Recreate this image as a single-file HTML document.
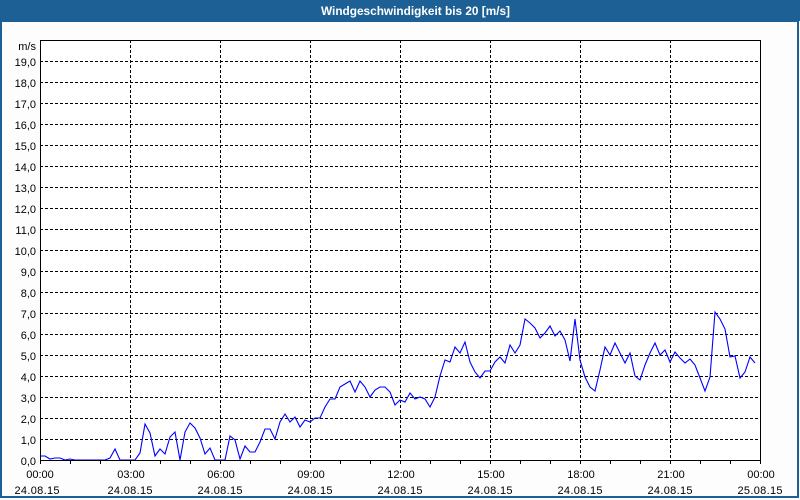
<!DOCTYPE html>
<html><head><meta charset="utf-8"><style>
html,body{margin:0;padding:0;width:800px;height:500px;overflow:hidden;background:#fcfdfc;}
svg{display:block;}
text{font-family:"Liberation Sans",Arial,sans-serif;font-size:11px;fill:#000;}
</style></head><body>
<svg width="800" height="500" viewBox="0 0 800 500" xmlns="http://www.w3.org/2000/svg">
<rect x="0" y="0" width="800" height="500" fill="#fcfdfc"/>
<rect x="0" y="0" width="800" height="21" fill="#1d6096"/>
<text x="321" y="15" textLength="189" lengthAdjust="spacingAndGlyphs" style="font-weight:bold;font-size:12px;fill:#fff;">Windgeschwindigkeit bis 20 [m/s]</text>
<rect x="1" y="21" width="797" height="476" fill="none" stroke="#1d6096" stroke-width="2"/>
<rect x="40" y="40" width="720" height="420" fill="#ffffff"/>
<g stroke="#000" stroke-width="1" stroke-dasharray="3,2" shape-rendering="crispEdges">
<line x1="40" y1="439.5" x2="760" y2="439.5"/>
<line x1="40" y1="418.5" x2="760" y2="418.5"/>
<line x1="40" y1="397.5" x2="760" y2="397.5"/>
<line x1="40" y1="376.5" x2="760" y2="376.5"/>
<line x1="40" y1="355.5" x2="760" y2="355.5"/>
<line x1="40" y1="334.5" x2="760" y2="334.5"/>
<line x1="40" y1="313.5" x2="760" y2="313.5"/>
<line x1="40" y1="292.5" x2="760" y2="292.5"/>
<line x1="40" y1="271.5" x2="760" y2="271.5"/>
<line x1="40" y1="250.5" x2="760" y2="250.5"/>
<line x1="40" y1="229.5" x2="760" y2="229.5"/>
<line x1="40" y1="208.5" x2="760" y2="208.5"/>
<line x1="40" y1="187.5" x2="760" y2="187.5"/>
<line x1="40" y1="166.5" x2="760" y2="166.5"/>
<line x1="40" y1="145.5" x2="760" y2="145.5"/>
<line x1="40" y1="124.5" x2="760" y2="124.5"/>
<line x1="40" y1="103.5" x2="760" y2="103.5"/>
<line x1="40" y1="82.5" x2="760" y2="82.5"/>
<line x1="40" y1="61.5" x2="760" y2="61.5"/>
<line x1="130.5" y1="40" x2="130.5" y2="460"/>
<line x1="220.5" y1="40" x2="220.5" y2="460"/>
<line x1="310.5" y1="40" x2="310.5" y2="460"/>
<line x1="400.5" y1="40" x2="400.5" y2="460"/>
<line x1="490.5" y1="40" x2="490.5" y2="460"/>
<line x1="580.5" y1="40" x2="580.5" y2="460"/>
<line x1="670.5" y1="40" x2="670.5" y2="460"/>
</g>
<polyline fill="none" stroke="#0000ff" stroke-width="1.1" points="40,456 45,456 50,459 55,458 60,458 65,460 70,459 75,460 105,460 110,458 115,449 120,460 135,460 140,453 145,424 150,433 155,456 160,449 165,454 170,437 175,432 180,460 185,432 190,423 195,428 200,438 205,454 210,448 215,460 225,460 230,436 235,440 240,459 245,446 250,452 255,452 260,442 265,429 270,429 275,439 280,422 285,414 290,422 295,417 300,427 305,420 310,422 315,418 320,418 325,407 330,399 335,399 340,387 345,384 350,381 355,392 360,381 365,387 370,397 375,390 380,387 385,387 390,392 395,405 400,400 405,402 410,393 415,399 420,397 425,399 430,407 435,397 440,376 445,360 450,362 455,347 460,353 465,342 470,362 475,372 480,378 485,371 490,371 495,362 500,357 505,363 510,345 515,353 520,345 525,319 530,323 535,328 540,338 545,333 550,326 555,336 560,331 565,340 570,361 575,319 580,360 585,377 590,387 595,391 600,370 605,347 610,355 615,343 620,353 625,363 630,353 635,376 640,380 645,365 650,353 655,343 660,355 665,350 670,362 675,352 680,358 685,363 690,359 695,365 700,378 705,391 710,377 715,312 720,319 725,329 730,357 735,356 740,378 745,372 750,357 755,363"/>
<rect x="40.5" y="40.5" width="720" height="420" fill="none" stroke="#000" stroke-width="1" shape-rendering="crispEdges"/>
<g stroke="#000" stroke-width="1" shape-rendering="crispEdges">
<line x1="40.5" y1="460" x2="40.5" y2="464"/><line x1="70.5" y1="460" x2="70.5" y2="464"/><line x1="100.5" y1="460" x2="100.5" y2="464"/><line x1="130.5" y1="460" x2="130.5" y2="464"/><line x1="160.5" y1="460" x2="160.5" y2="464"/><line x1="190.5" y1="460" x2="190.5" y2="464"/><line x1="220.5" y1="460" x2="220.5" y2="464"/><line x1="250.5" y1="460" x2="250.5" y2="464"/><line x1="280.5" y1="460" x2="280.5" y2="464"/><line x1="310.5" y1="460" x2="310.5" y2="464"/><line x1="340.5" y1="460" x2="340.5" y2="464"/><line x1="370.5" y1="460" x2="370.5" y2="464"/><line x1="400.5" y1="460" x2="400.5" y2="464"/><line x1="430.5" y1="460" x2="430.5" y2="464"/><line x1="460.5" y1="460" x2="460.5" y2="464"/><line x1="490.5" y1="460" x2="490.5" y2="464"/><line x1="520.5" y1="460" x2="520.5" y2="464"/><line x1="550.5" y1="460" x2="550.5" y2="464"/><line x1="580.5" y1="460" x2="580.5" y2="464"/><line x1="610.5" y1="460" x2="610.5" y2="464"/><line x1="640.5" y1="460" x2="640.5" y2="464"/><line x1="670.5" y1="460" x2="670.5" y2="464"/><line x1="700.5" y1="460" x2="700.5" y2="464"/><line x1="730.5" y1="460" x2="730.5" y2="464"/><line x1="760.5" y1="460" x2="760.5" y2="464"/>
</g>
<g text-anchor="end">
<text x="36" y="50">m/s</text>
<text x="36" y="66">19,0</text>
<text x="36" y="87">18,0</text>
<text x="36" y="108">17,0</text>
<text x="36" y="129">16,0</text>
<text x="36" y="150">15,0</text>
<text x="36" y="171">14,0</text>
<text x="36" y="192">13,0</text>
<text x="36" y="213">12,0</text>
<text x="36" y="234">11,0</text>
<text x="36" y="255">10,0</text>
<text x="36" y="276">9,0</text>
<text x="36" y="297">8,0</text>
<text x="36" y="318">7,0</text>
<text x="36" y="339">6,0</text>
<text x="36" y="360">5,0</text>
<text x="36" y="381">4,0</text>
<text x="36" y="402">3,0</text>
<text x="36" y="423">2,0</text>
<text x="36" y="444">1,0</text>
<text x="36" y="465">0,0</text>
</g>
<g text-anchor="middle">
<text x="40" y="478">00:00</text><text x="37" y="494" textLength="45">24.08.15</text>
<text x="131" y="478">03:00</text><text x="130" y="494" textLength="45">24.08.15</text>
<text x="221" y="478">06:00</text><text x="220" y="494" textLength="45">24.08.15</text>
<text x="311" y="478">09:00</text><text x="310" y="494" textLength="45">24.08.15</text>
<text x="401" y="478">12:00</text><text x="400" y="494" textLength="45">24.08.15</text>
<text x="491" y="478">15:00</text><text x="490" y="494" textLength="45">24.08.15</text>
<text x="581" y="478">18:00</text><text x="580" y="494" textLength="45">24.08.15</text>
<text x="671" y="478">21:00</text><text x="670" y="494" textLength="45">24.08.15</text>
<text x="761" y="478">00:00</text><text x="760" y="494" textLength="45">25.08.15</text>
</g>
</svg>
</body></html>
